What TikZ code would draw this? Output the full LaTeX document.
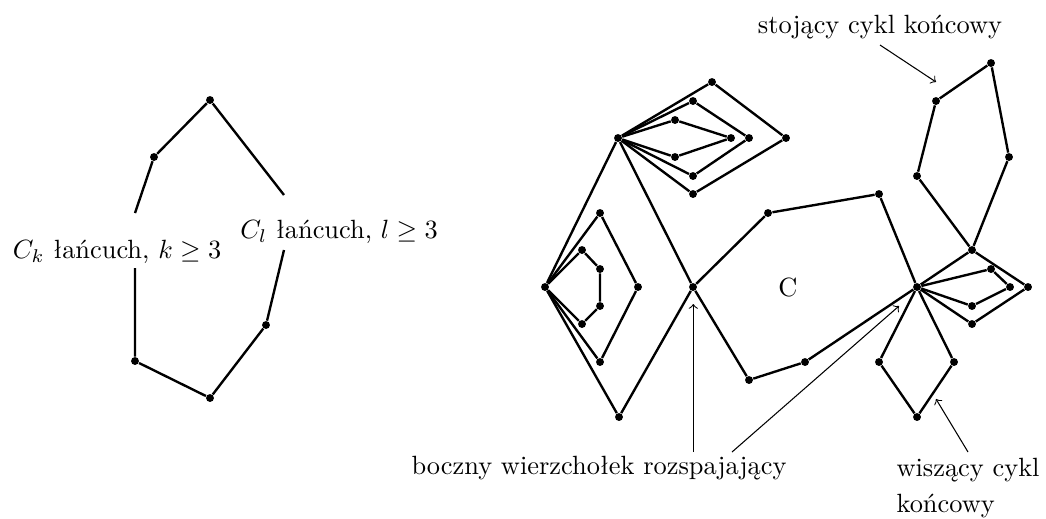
\documentclass[tikz,border=0pt]{standalone}
\usepackage{fontspec}
\begin{document}
\begin{tikzpicture}[x=0.379pt,y=-0.379pt,
  vtx/.style={circle,fill,inner sep=0pt,minimum size=3pt},
  ed/.style={line width=0.9pt},
  lab/.style={inner sep=0pt},
  pointer/.style={line width=0.4pt,->}]
\useasboundingbox (0,0) rectangle (1046,518);
% left figure
\node[vtx] (l1) at (210,100) {};
\node[vtx] (l2) at (154,157) {};
\node[vtx] (l3) at (135,361) {};
\node[vtx] (l4) at (210,398) {};
\node[vtx] (l5) at (266,325) {};
\coordinate (la) at (135,213);
\coordinate (lb) at (135,268);
\coordinate (lc) at (284,195);
\coordinate (ld) at (284,250);
\node[lab] (ck) at (117,252) {$C_k$ łańcuch, $k\geq 3$};
\node[lab] (cl) at (339,232) {$C_l$ łańcuch, $l\geq 3$};
\draw[ed] (la) -- (l2) -- (l1) -- (lc);
\draw[ed] (lb) -- (l3) -- (l4) -- (l5) -- (ld);
% right figure: top hub
\node[vtx] (A) at (618,138) {};
\node[vtx] (t1) at (712,82) {};
\node[vtx] (t2) at (786,138) {};
\node[vtx] (t3) at (693,194) {};
\node[vtx] (m1) at (693,101) {};
\node[vtx] (m2) at (749,138) {};
\node[vtx] (m3) at (693,176) {};
\node[vtx] (i1) at (675,120) {};
\node[vtx] (i2) at (731,138) {};
\node[vtx] (i3) at (675,157) {};
\draw[ed] (A) -- (t1) -- (t2) -- (t3) -- (A);
\draw[ed] (A) -- (m1) -- (m2) -- (m3) -- (A);
\draw[ed] (A) -- (i1) -- (i2) -- (i3) -- (A);
% left hub
\node[vtx] (L) at (545,287) {};
\node[vtx] (V) at (693,287) {};
\node[vtx] (B) at (619,417) {};
\node[vtx] (d1) at (600,213) {};
\node[vtx] (d2) at (638,287) {};
\node[vtx] (d3) at (600,362) {};
\node[vtx] (p1) at (582,250) {};
\node[vtx] (p2) at (600,269) {};
\node[vtx] (p3) at (600,306) {};
\node[vtx] (p4) at (582,324) {};
\draw[ed] (L) -- (A) -- (V) -- (B) -- (L);
\draw[ed] (L) -- (d1) -- (d2) -- (d3) -- (L);
\draw[ed] (L) -- (p1) -- (p2) -- (p3) -- (p4) -- (L);
% cycle C
\node[vtx] (c1) at (768,213) {};
\node[vtx] (c2) at (879,194) {};
\node[vtx] (W) at (917,287) {};
\node[vtx] (c4) at (805,362) {};
\node[vtx] (c5) at (749,380) {};
\draw[ed] (V) -- (c1) -- (c2) -- (W) -- (c4) -- (c5) -- (V);
\node (C) at (788,287) {C};
% standing cycle
\node[vtx] (s0) at (972,250) {};
\node[vtx] (s1) at (917,176) {};
\node[vtx] (s2) at (936,101) {};
\node[vtx] (s3) at (991,63) {};
\node[vtx] (s4) at (1009,157) {};
\draw[ed] (s0) -- (s1) -- (s2) -- (s3) -- (s4) -- (s0);
% right hub
\node[vtx] (r1) at (1028,287) {};
\node[vtx] (r2) at (972,324) {};
\node[vtx] (q1) at (991,269) {};
\node[vtx] (q2) at (1010,287) {};
\node[vtx] (q3) at (972,306) {};
\draw[ed] (W) -- (s0) -- (r1) -- (r2) -- (W);
\draw[ed] (W) -- (q1) -- (q2) -- (q3) -- (W);
% hanging cycle
\node[vtx] (h1) at (879,362) {};
\node[vtx] (h2) at (917,417) {};
\node[vtx] (h3) at (954,362) {};
\draw[ed] (W) -- (h1) -- (h2) -- (h3) -- (W);
% labels and pointers
\node[lab] (lst) at (880,27) {stojący cykl końcowy};
\node[lab] (lbo) at (599,468) {boczny wierzchołek rozspajający};
\node[lab,anchor=north west,align=left] (lwi) at (896,458) {wiszący cykl\\[1.4pt]końcowy};
\coordinate (a1s) at (693.3,452);
\coordinate (a1e) at (693.3,304);
\coordinate (a2s) at (732,452);
\coordinate (a2e) at (899,306);
\coordinate (a3s) at (968,452);
\coordinate (a3e) at (936,399);
\coordinate (a4s) at (880,45);
\coordinate (a4e) at (936,82);
\draw[pointer] (a1s) -- (a1e);
\draw[pointer] (a2s) -- (a2e);
\draw[pointer] (a3s) -- (a3e);
\draw[pointer] (a4s) -- (a4e);
\end{tikzpicture}
\end{document}
